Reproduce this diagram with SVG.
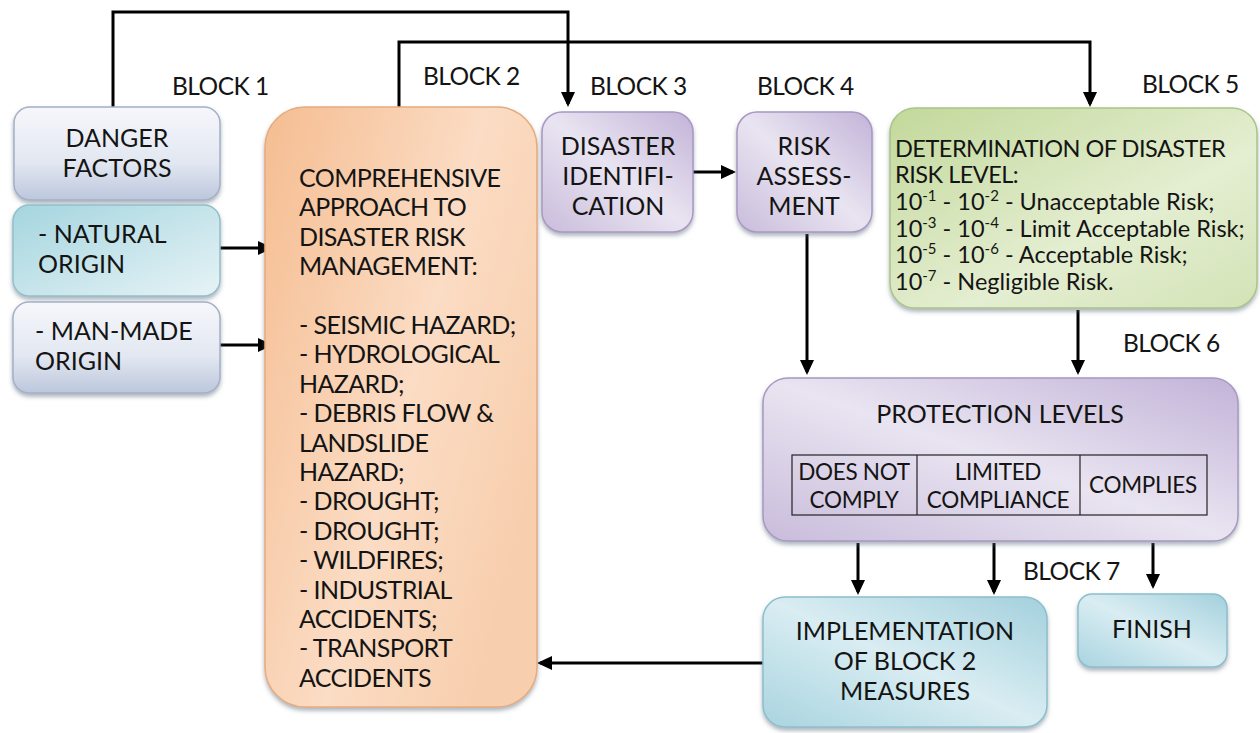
<svg xmlns="http://www.w3.org/2000/svg" width="1260" height="733" viewBox="0 0 1260 733">
<defs>
<style>
text{font-family:Lato,"Open Sans","Liberation Sans",sans-serif;fill:#141414;font-size:25px}
.c{text-anchor:middle}
.lbl{font-size:24.5px;letter-spacing:-0.5px}
.b2{letter-spacing:-0.6px}
.b5{font-size:23.5px}
.b5c{letter-spacing:-0.5px}
.tb{font-size:22.5px;letter-spacing:-0.3px}
.sup{font-size:15px}
.conn{fill:none;stroke:#000;stroke-width:3}
.box{filter:url(#sh);stroke-width:1.5}
</style>
<filter id="sh" x="-10%" y="-10%" width="120%" height="125%">
<feDropShadow dx="0" dy="3" stdDeviation="2" flood-color="#5a6a7a" flood-opacity="0.5"/>
</filter>
<marker id="ar" viewBox="0 0 15 14" refX="12" refY="7" markerWidth="15" markerHeight="14" markerUnits="userSpaceOnUse" orient="auto">
<path d="M0,0 L15,7 L0,14 z" fill="#000"/>
</marker>
<linearGradient id="gGrey" x1="0" y1="0" x2="0" y2="1">
<stop offset="0" stop-color="#f6f7fb"/><stop offset="0.6" stop-color="#e2e7f1"/><stop offset="1" stop-color="#bcc7dc"/>
</linearGradient>
<linearGradient id="gTeal" x1="0" y1="0" x2="1" y2="1">
<stop offset="0" stop-color="#a5d5df"/><stop offset="1" stop-color="#e6f3f6"/>
</linearGradient>
<linearGradient id="gOrange" x1="0" y1="0" x2="1" y2="0.6">
<stop offset="0" stop-color="#f5bd91"/><stop offset="0.6" stop-color="#fbdcc4"/><stop offset="1" stop-color="#f8cfae"/>
</linearGradient>
<linearGradient id="gPurple" x1="0" y1="1" x2="1" y2="0">
<stop offset="0" stop-color="#c9bcdb"/><stop offset="0.5" stop-color="#e9e4f1"/><stop offset="1" stop-color="#c2b3d8"/>
</linearGradient>
<linearGradient id="gGreen" x1="0" y1="0" x2="1" y2="1">
<stop offset="0" stop-color="#c2d89a"/><stop offset="0.6" stop-color="#e4eed1"/><stop offset="1" stop-color="#d3e3b6"/>
</linearGradient>
<linearGradient id="gCyan" x1="0" y1="1" x2="1" y2="0">
<stop offset="0" stop-color="#a9d4e0"/><stop offset="0.5" stop-color="#d9edf2"/><stop offset="1" stop-color="#a3d0dd"/>
</linearGradient>
</defs>
<rect width="1260" height="733" fill="#fff"/>

<g id="connectors">
<path class="conn" d="M113,107 V12 H568 V104" marker-end="url(#ar)"/>
<path class="conn" d="M399,107 V42 H1090 V104" marker-end="url(#ar)"/>
<path class="conn" d="M220,248 H270" marker-end="url(#ar)"/>
<path class="conn" d="M220,345 H270" marker-end="url(#ar)"/>
<path class="conn" d="M693,172 H733" marker-end="url(#ar)"/>
<path class="conn" d="M807,234 V372" marker-end="url(#ar)"/>
<path class="conn" d="M1078,310 V372" marker-end="url(#ar)"/>
<path class="conn" d="M858,543 V592" marker-end="url(#ar)"/>
<path class="conn" d="M994,543 V592" marker-end="url(#ar)"/>
<path class="conn" d="M1153,543 V586" marker-end="url(#ar)"/>
<path class="conn" d="M763,663 H540" marker-end="url(#ar)"/>
</g>

<g id="labels">
<text class="lbl" x="172" y="95">BLOCK 1</text>
<text class="lbl" x="423" y="85">BLOCK 2</text>
<text class="lbl" x="590" y="95">BLOCK 3</text>
<text class="lbl" x="757" y="95">BLOCK 4</text>
<text class="lbl" x="1142" y="93">BLOCK 5</text>
<text class="lbl" x="1123" y="352">BLOCK 6</text>
<text class="lbl" x="1023" y="580">BLOCK 7</text>
</g>

<g id="danger-factors">
<rect class="box" x="14" y="107" width="206" height="93" rx="16" fill="url(#gGrey)" stroke="#a3b0c8"/>
<text class="c" x="117" y="147">DANGER</text>
<text class="c" x="117" y="177">FACTORS</text>
</g>
<g id="natural-origin">
<rect class="box" x="13" y="205" width="207" height="91" rx="16" fill="url(#gTeal)" stroke="#92bfca"/>
<text x="38" y="243">- NATURAL</text>
<text x="38" y="273">ORIGIN</text>
</g>
<g id="man-made-origin">
<rect class="box" x="13" y="302" width="207" height="91" rx="16" fill="url(#gGrey)" stroke="#a3b0c8"/>
<text x="35" y="340">- MAN-MADE</text>
<text x="35" y="370">ORIGIN</text>
</g>

<g id="block2">
<rect class="box" x="265" y="107" width="272" height="600" rx="40" fill="url(#gOrange)" stroke="#e6ab7e"/>
<text class="b2" x="299" y="187">COMPREHENSIVE</text>
<text class="b2" x="299" y="216.4">APPROACH TO</text>
<text class="b2" x="299" y="245.8">DISASTER RISK</text>
<text class="b2" x="299" y="275.2">MANAGEMENT:</text>
<text class="b2" x="299" y="334">- SEISMIC HAZARD;</text>
<text class="b2" x="299" y="363.4">- HYDROLOGICAL</text>
<text class="b2" x="299" y="392.8">HAZARD;</text>
<text class="b2" x="299" y="422.2">- DEBRIS FLOW &amp;</text>
<text class="b2" x="299" y="451.6">LANDSLIDE</text>
<text class="b2" x="299" y="481">HAZARD;</text>
<text class="b2" x="299" y="510.4">- DROUGHT;</text>
<text class="b2" x="299" y="539.8">- DROUGHT;</text>
<text class="b2" x="299" y="569.2">- WILDFIRES;</text>
<text class="b2" x="299" y="598.6">- INDUSTRIAL</text>
<text class="b2" x="299" y="628">ACCIDENTS;</text>
<text class="b2" x="299" y="657.4">- TRANSPORT</text>
<text class="b2" x="299" y="686.8">ACCIDENTS</text>
</g>

<g id="block3">
<rect class="box" x="542" y="112" width="151" height="120" rx="20" fill="url(#gPurple)" stroke="#a898c2"/>
<text class="c" x="618" y="155">DISASTER</text>
<text class="c" x="618" y="185">IDENTIFI-</text>
<text class="c" x="618" y="215">CATION</text>
</g>

<g id="block4">
<rect class="box" x="737" y="112" width="135" height="120" rx="20" fill="url(#gPurple)" stroke="#a898c2"/>
<text class="c" x="804" y="155">RISK</text>
<text class="c" x="804" y="185">ASSESS-</text>
<text class="c" x="804" y="215">MENT</text>
</g>

<g id="block5">
<rect class="box" x="890" y="108" width="367" height="200" rx="25" fill="url(#gGreen)" stroke="#abc488"/>
<text class="b5 b5c" x="895" y="157">DETERMINATION OF DISASTER</text>
<text class="b5 b5c" x="895" y="183">RISK LEVEL:</text>
<text class="b5" x="895" y="210">10<tspan class="sup" dy="-9">-1</tspan><tspan dy="9"> - 10</tspan><tspan class="sup" dy="-9">-2</tspan><tspan dy="9"> - Unacceptable Risk;</tspan></text>
<text class="b5" x="895" y="237">10<tspan class="sup" dy="-9">-3</tspan><tspan dy="9"> - 10</tspan><tspan class="sup" dy="-9">-4</tspan><tspan dy="9"> - Limit Acceptable Risk;</tspan></text>
<text class="b5" x="895" y="263">10<tspan class="sup" dy="-9">-5</tspan><tspan dy="9"> - 10</tspan><tspan class="sup" dy="-9">-6</tspan><tspan dy="9"> - Acceptable Risk;</tspan></text>
<text class="b5" x="895" y="290">10<tspan class="sup" dy="-9">-7</tspan><tspan dy="9"> - Negligible Risk.</tspan></text>
</g>

<g id="block6">
<rect class="box" x="763" y="378" width="475" height="163" rx="25" fill="url(#gPurple)" stroke="#a898c2"/>
<text class="c" x="1000" y="423">PROTECTION LEVELS</text>
<rect x="792" y="455" width="415" height="60" fill="none" stroke="#222" stroke-width="1.2"/>
<line x1="917" y1="455" x2="917" y2="515" stroke="#222" stroke-width="1.2"/>
<line x1="1080" y1="455" x2="1080" y2="515" stroke="#222" stroke-width="1.2"/>
<text class="c tb" x="854" y="480">DOES NOT</text>
<text class="c tb" x="854" y="508">COMPLY</text>
<text class="c tb" x="998" y="480">LIMITED</text>
<text class="c tb" x="998" y="508">COMPLIANCE</text>
<text class="c tb" x="1143" y="493">COMPLIES</text>
</g>

<g id="implementation">
<rect class="box" x="763" y="597" width="284" height="130" rx="22" fill="url(#gCyan)" stroke="#8cbfcc"/>
<text class="c" x="905" y="640">IMPLEMENTATION</text>
<text class="c" x="905" y="670">OF BLOCK 2</text>
<text class="c" x="905" y="700">MEASURES</text>
</g>

<g id="finish">
<rect class="box" x="1078" y="594" width="149" height="73" rx="14" fill="url(#gCyan)" stroke="#8cbfcc"/>
<text class="c" x="1152" y="638">FINISH</text>
</g>
</svg>
